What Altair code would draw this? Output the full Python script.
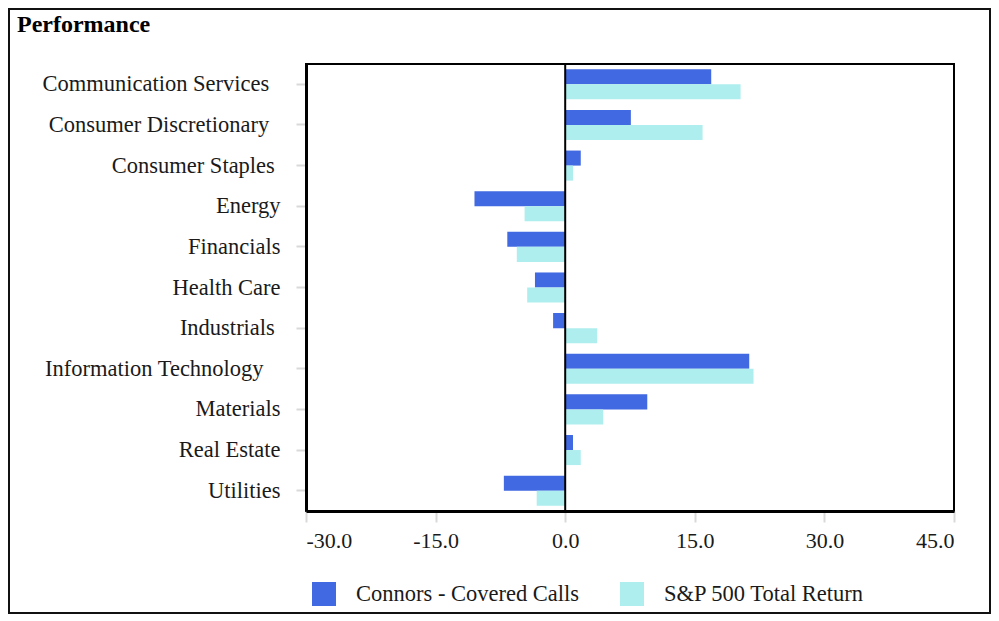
import altair as alt
import pandas as pd

categories = ["Communication Services", "Consumer Discretionary", "Consumer Staples",
              "Energy", "Financials", "Health Care", "Industrials",
              "Information Technology", "Materials", "Real Estate", "Utilities"]
series_names = ["Connors - Covered Calls", "S&P 500 Total Return"]
connors = [16.9, 7.6, 1.8, -10.5, -6.7, -3.5, -1.4, 21.3, 9.5, 0.9, -7.1]
sp500 = [20.3, 15.9, 0.9, -4.7, -5.6, -4.4, 3.7, 21.8, 4.4, 1.8, -3.3]
x_ticks = [-30, -15, 0, 15, 30, 45]
colors = ["#4169E1", "#AFEEEE"]
title_text = "Performance"

rows = []
for c, a, b in zip(categories, connors, sp500):
    rows.append({"sector": c, "series": series_names[0], "value": a})
    rows.append({"sector": c, "series": series_names[1], "value": b})
df = pd.DataFrame(rows)

FONT = "Liberation Serif"
TXT = "#1a1a1a"

# trailing spacing of some labels as in the original
suffix = {"Communication Services": 2, "Consumer Discretionary": 2, "Consumer Staples": 1,
          "Industrials": 1, "Information Technology": 3}
expr = "datum.label"
for k, n in suffix.items():
    pad = chr(160) * n + chr(8203)
    expr = f"datum.label == '{k}' ? '{k}' + '{pad}' : (" + expr + ")"

x_axis = alt.Axis(values=x_ticks, title=None, grid=False,
                  labelExpr="(datum.value < 0 ? '-' : '') + format(abs(datum.value), '.1f')",
                  domainColor="black", domainWidth=3, tickColor="#d9d9d9",
                  tickSize=11, tickWidth=2, labelPadding=8, labelFont=FONT,
                  labelFontSize=22, labelColor=TXT)
x_scale = alt.Scale(domain=[-30, 45], nice=False, zero=False)

frame = alt.Chart(pd.DataFrame({"a": [0]})).mark_rect(
    fill="transparent", stroke="#111111", strokeWidth=2
).encode(x=alt.value(-297), x2=alt.value(684), y=alt.value(-55), y2=alt.value(549))

bars = alt.Chart(df).mark_bar().encode(
    y=alt.Y("sector:N", sort=categories,
            scale=alt.Scale(paddingInner=0.26, paddingOuter=0.13),
            axis=alt.Axis(title=None, domainColor="black", domainWidth=3,
                          tickColor="#d9d9d9", tickSize=10, tickWidth=2,
                          labelPadding=16, labelFont=FONT, labelFontSize=22.5,
                          labelColor=TXT, labelLimit=500, labelExpr=expr)),
    yOffset=alt.YOffset("series:N", sort=series_names,
                        scale=alt.Scale(paddingInner=0, paddingOuter=0)),
    x=alt.X("value:Q", scale=x_scale, axis=x_axis),
    color=alt.Color("series:N", sort=series_names,
                    scale=alt.Scale(domain=series_names, range=colors),
                    legend=alt.Legend(orient="none", legendX=6, legendY=518,
                                      direction="horizontal", title=None,
                                      symbolType="square", symbolSize=576,
                                      symbolStrokeWidth=0, symbolOpacity=1,
                                      labelFont=FONT, labelFontSize=22.5,
                                      labelColor=TXT, labelOffset=20,
                                      columnPadding=40, padding=0,
                                      labelLimit=500)),
)

rule = alt.Chart(pd.DataFrame({"z": [0]})).mark_rule(
    color="black", strokeWidth=2
).encode(x=alt.X("z:Q", scale=x_scale, axis=x_axis))

title = alt.Chart(pd.DataFrame({"t": [title_text]})).mark_text(
    align="left", baseline="alphabetic", font=FONT, fontSize=24,
    fontWeight="bold", color="black"
).encode(x=alt.value(-289), y=alt.value(-32), text="t:N")

chart = alt.layer(frame, bars, rule, title).properties(
    width=648, height=447,
    autosize=alt.AutoSizeParams(type="none"),
    padding={"left": 298, "top": 56, "right": 37, "bottom": 103},
).configure_view(stroke="black", strokeWidth=2)

chart.save("out.html", embed_options={"renderer": "svg", "actions": False})
